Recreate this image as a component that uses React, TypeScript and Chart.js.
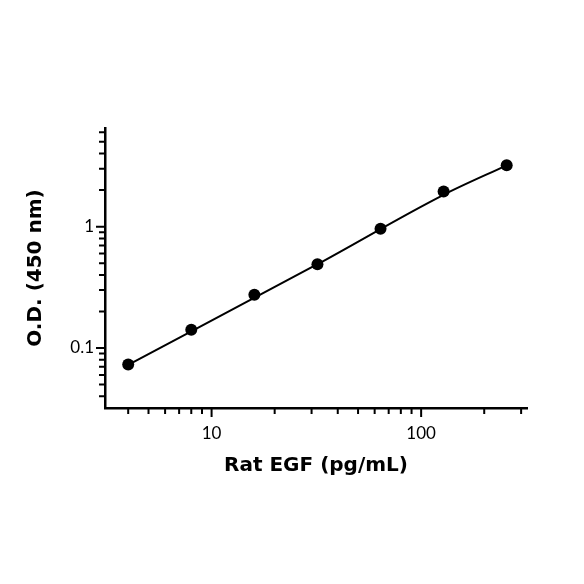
import React, { useEffect, useRef } from "react";
import { Chart, registerables } from "chart.js";

Chart.register(...registerables);

// Data
const concentrations = [4, 8, 16, 32, 64, 128, 256]; // pg/mL
const odValues = [0.073, 0.141, 0.275, 0.49, 0.96, 1.95, 3.2];

// Fitted standard curve
const fitX = [4, 32, 128, 256];
const fitY = [0.0726, 0.49, 1.83, 3.2];

const xLabelValues = [10, 100];
const yLabelValues = [0.1, 1];

const X_MIN = 3.1;
const X_MAX = 320;
const Y_MIN = 0.032;
const Y_MAX = 6.5;

const TICK_FONT = "Lato, 'Open Sans', sans-serif";
const TITLE_FONT = "'DejaVu Sans', sans-serif";

function isLabelValue(v: number, list: number[]) {
  return list.some((l) => Math.abs(v - l) / l < 1e-6);
}

function logTickValues(min: number, max: number) {
  const out: { v: number; major: boolean }[] = [];
  const d0 = Math.floor(Math.log10(min));
  const d1 = Math.ceil(Math.log10(max));
  for (let d = d0; d <= d1; d++) {
    for (let m = 1; m <= 9; m++) {
      const v = m * Math.pow(10, d);
      if (v >= min * 0.999 && v <= max * 1.001) out.push({ v, major: m === 1 });
    }
  }
  return out;
}

const tickPlugin = {
  id: "logTicks",
  afterDraw(chart: any) {
    const { ctx, chartArea, scales } = chart;
    const xs = scales.x;
    const ys = scales.y;
    ctx.save();
    ctx.strokeStyle = "#000";
    ctx.lineWidth = 2;
    ctx.lineCap = "butt";
    ctx.beginPath();
    for (const t of logTickValues(X_MIN, X_MAX)) {
      const px = xs.getPixelForValue(t.v);
      const len = t.major ? 9 : 6;
      ctx.moveTo(px, chartArea.bottom);
      ctx.lineTo(px, chartArea.bottom + len);
    }
    for (const t of logTickValues(Y_MIN, Y_MAX)) {
      const py = ys.getPixelForValue(t.v);
      const len = t.major ? 9 : 6;
      ctx.moveTo(chartArea.left, py);
      ctx.lineTo(chartArea.left - len, py);
    }
    ctx.stroke();
    ctx.restore();
  },
};

export default function App() {
  const canvasRef = useRef<HTMLCanvasElement | null>(null);

  useEffect(() => {
    const canvas = canvasRef.current;
    if (!canvas) return;
    const chart = new Chart(canvas, {
      type: "line",
      data: {
        datasets: [
          {
            data: fitX.map((c, i) => ({ x: c, y: fitY[i] })),
            borderColor: "#000",
            borderWidth: 2,
            pointRadius: 0,
            cubicInterpolationMode: "monotone",
          },
          {
            data: concentrations.map((c, i) => ({ x: c, y: odValues[i] })),
            showLine: false,
            borderColor: "#000",
            backgroundColor: "#000",
            pointRadius: 6,
            pointBackgroundColor: "#000",
            pointBorderWidth: 0,
          },
        ],
      },
      options: {
        responsive: false,
        animation: false,
        devicePixelRatio: 1,
        layout: { padding: { left: 0, right: 57, top: 128, bottom: 0 } },
        plugins: { legend: { display: false }, tooltip: { enabled: false } },
        scales: {
          x: {
            type: "logarithmic",
            position: "bottom",
            min: X_MIN,
            max: X_MAX,
            afterFit: (s: any) => {
              s.height = 176;
            },
            grid: { display: false, drawTicks: false, tickLength: 0 },
            border: { display: true, color: "#000", width: 2.5 },
            ticks: {
              autoSkip: false,
              maxRotation: 0,
              padding: 15,
              color: "#000",
              font: { family: TICK_FONT, size: 17 },
              callback: (v: any) => (isLabelValue(Number(v), xLabelValues) ? String(Number(v)) : ""),
            },
            title: {
              display: true,
              text: "Rat EGF (pg/mL)",
              color: "#000",
              font: { family: TITLE_FONT, size: 20, weight: "bold" },
              padding: { top: 0, bottom: 106 },
            },
          },
          y: {
            type: "logarithmic",
            position: "left",
            min: Y_MIN,
            max: Y_MAX,
            afterFit: (s: any) => {
              s.width = 105;
            },
            grid: { display: false, drawTicks: false, tickLength: 0 },
            border: { display: true, color: "#000", width: 2.5 },
            ticks: {
              autoSkip: false,
              padding: 11,
              color: "#000",
              font: { family: TICK_FONT, size: 17 },
              callback: (v: any) => (isLabelValue(Number(v), yLabelValues) ? String(Number(v)) : ""),
            },
            title: {
              display: true,
              text: "O.D. (450 nm)",
              color: "#000",
              font: { family: TITLE_FONT, size: 20, weight: "bold" },
              padding: { top: 24, bottom: 0 },
            },
          },
        },
      },
      plugins: [tickPlugin],
    } as any);
    return () => chart.destroy();
  }, []);

  return (
    <div style={{ position: "absolute", left: 0, top: 0, width: 584, height: 584, background: "#fff" }}>
      <canvas ref={canvasRef} width={584} height={584} style={{ width: 584, height: 584 }} />
    </div>
  );
}
